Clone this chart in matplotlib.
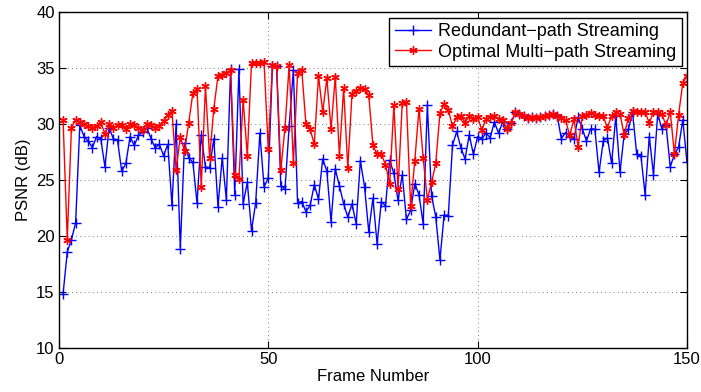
import numpy as np
import matplotlib
matplotlib.use("Agg")
import matplotlib.pyplot as plt

plt.rcParams["font.family"] = ["Liberation Sans", "DejaVu Sans"]

# PSNR per frame (dB), frames 1..150
frames = np.arange(1, 151)

redundant = [
    14.85, 18.6, 19.7, 21.2, 29.9, 28.9, 28.5, 27.9, 28.9, 28.7,
    26.2, 29.7, 28.7, 28.6, 25.8, 26.5, 28.9, 28.1, 29.0, 29.3,
    29.7, 28.7, 27.9, 28.2, 27.2, 28.2, 22.8, 30.0, 18.9, 28.3,
    27.0, 26.6, 22.95, 29.05, 26.2, 26.1, 28.7, 22.65, 27.0, 23.25,
    34.9, 23.7, 34.9, 22.9, 24.8, 20.5, 23.0, 29.2, 24.4, 25.2,
    35.2, 35.2, 24.5, 24.2, 29.85, 34.85, 23.0, 23.1, 22.2, 22.75,
    24.6, 23.3, 26.9, 25.8, 21.3, 26.0, 24.5, 22.9, 21.7, 22.9,
    21.1, 26.75, 24.4, 20.4, 23.4, 19.3, 23.1, 22.7, 26.8, 25.6,
    23.2, 25.5, 21.5, 22.3, 24.7, 23.7, 21.1, 31.7, 23.6, 21.75,
    17.9, 21.9, 21.85, 28.1, 29.35, 27.9, 26.9, 29.05, 27.3, 28.9,
    28.7, 29.2, 28.8, 30.2, 29.2, 30.2, 29.55, 30.1, 31.05, 30.9,
    30.75, 30.55, 30.6, 30.55, 30.6, 30.75, 30.85, 30.9, 30.75, 28.7,
    29.25, 28.9, 28.7, 30.6, 29.6, 28.5, 29.6, 29.55, 25.7, 28.5,
    28.8, 26.5, 30.7, 25.7, 29.1, 29.55, 31.05, 27.3, 27.2, 23.7,
    28.9, 25.5, 30.9, 29.6, 29.9, 26.2, 27.3, 27.95, 30.4, 26.6,
]

optimal = [
    30.4, 19.7, 29.7, 30.4, 30.2, 30.0, 29.85, 29.7, 29.8, 30.2,
    29.1, 30.0, 29.7, 29.9, 29.9, 29.55, 30.0, 29.9, 29.7, 29.45,
    30.0, 29.9, 29.7, 29.85, 30.3, 30.8, 31.2, 25.9, 28.9, 27.6,
    30.1, 32.8, 33.1, 24.4, 33.4, 27.0, 31.4, 34.3, 34.4, 34.6,
    34.8, 25.5, 25.1, 32.2, 27.2, 35.5, 35.5, 35.45, 35.55, 27.8,
    35.3, 35.2, 25.9, 29.7, 35.3, 26.5, 34.6, 34.85, 30.0, 29.55,
    28.2, 34.3, 31.1, 34.1, 29.55, 34.25, 27.2, 33.2, 26.1, 32.7,
    33.0, 33.2, 33.1, 32.6, 28.1, 27.3, 27.35, 26.4, 24.7, 31.7,
    24.2, 31.9, 32.0, 22.7, 26.75, 31.4, 27.0, 23.25, 24.8, 26.5,
    31.0, 31.8, 31.3, 29.8, 30.6, 30.75, 30.15, 30.75, 30.5, 30.6,
    29.5, 30.5, 30.6, 30.7, 30.5, 30.4, 29.55, 30.1, 31.05, 30.9,
    30.75, 30.55, 30.6, 30.55, 30.6, 30.75, 30.85, 30.9, 30.75, 30.55,
    30.35, 29.0, 30.45, 28.0, 30.7, 30.85, 31.0, 30.85, 30.75, 30.7,
    29.7, 30.75, 31.05, 30.9, 29.05, 30.55, 31.2, 31.05, 31.1, 31.1,
    30.1, 31.1, 31.1, 30.9, 29.9, 31.1, 27.35, 30.85, 33.7, 34.3,
]

xticks = [0, 50, 100, 150]
yticks = [10, 15, 20, 25, 30, 35, 40]

fig = plt.figure(figsize=(7.01, 3.92), dpi=100)
ax = fig.add_axes([0.084, 0.1115, 0.896, 0.8575])

ax.plot(frames, redundant, color="blue", linestyle="-", marker="+",
        markersize=7.5, linewidth=1.0, markeredgewidth=1.0,
        label="Redundant\u2212path Streaming")
ax.plot(frames, optimal, color="red", linestyle="-", marker=(6, 2, 0),
        markersize=6, linewidth=1.0, markeredgewidth=1.0,
        label="Optimal Multi\u2212path Streaming")

ax.set_xlim(0, 150)
ax.set_ylim(10, 40)
ax.set_xticks(xticks)
ax.set_yticks(yticks)
ax.tick_params(direction="in", top=True, right=True, length=5,
               width=0.8, labelsize=12, pad=3)
for s in ax.spines.values():
    s.set_linewidth(1.0)

ax.grid(True, linestyle=(0, (1, 4)), color="0.35", linewidth=0.6)

ax.set_xlabel("Frame Number", fontsize=12, labelpad=1)
ax.set_ylabel("PSNR (dB)", fontsize=12, labelpad=4)

leg = ax.legend(loc="upper right", fontsize=13, fancybox=False,
                edgecolor="black", framealpha=1, handlelength=2.0,
                borderaxespad=0.3, borderpad=0.3, labelspacing=0.2,
                handletextpad=0.4)
leg.get_frame().set_linewidth(1.0)

fig.savefig("out.png", dpi=100)
